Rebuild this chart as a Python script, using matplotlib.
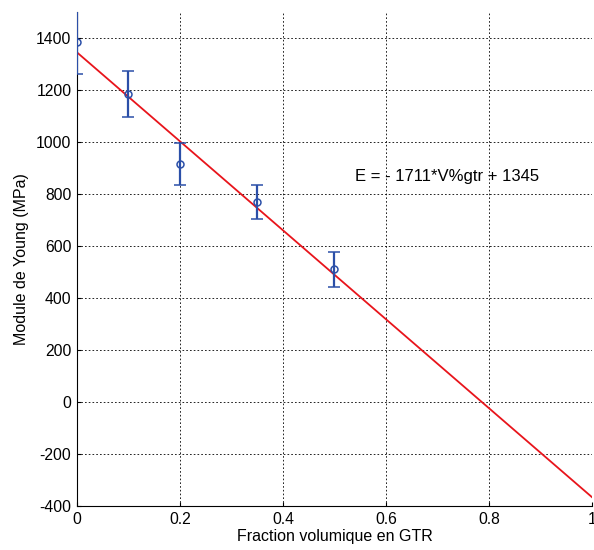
import numpy as np
import matplotlib.pyplot as plt

plt.rcParams['font.family'] = ['Liberation Sans', 'DejaVu Sans']
plt.rcParams['axes.unicode_minus'] = False

# Measured data (fraction of GTR vs Young's modulus)
frac = [0.0, 0.1, 0.2, 0.35, 0.5]
modulus = [1385, 1185, 915, 770, 510]
err = [125, 88, 81, 66, 66]

# Linear fit E = -1711*V + 1345
slope = -1711
intercept = 1345
fit_x = np.array([0.0, 1.0])

fig = plt.figure(figsize=(5.94, 5.5), dpi=100)
ax = fig.add_axes([0.1296, 0.08, 0.867, 0.898])

ax.plot(fit_x, slope * fit_x + intercept, color='#e8141b', lw=1.3, zorder=3)
ax.errorbar(frac, modulus, yerr=err, fmt='o', color='#2b4fa8', mfc='none',
            ms=5, mew=1.1, elinewidth=1.6, capsize=4, capthick=1.3, zorder=4)

ax.text(0.54, 867, 'E = - 1711*V%gtr + 1345', fontsize=12, va='center')

ax.set_xlim(0, 1)
ax.set_ylim(-400, 1500)
ax.set_xticks([0, 0.2, 0.4, 0.6, 0.8, 1])
ax.set_xticklabels(['0', '0.2', '0.4', '0.6', '0.8', '1'])
ax.set_yticks(range(-400, 1401, 200))

ax.grid(True, color='black', linestyle=(0, (2, 2.5)), lw=0.6)
ax.spines['top'].set_visible(False)
ax.spines['right'].set_visible(False)
ax.tick_params(direction='in', labelsize=11.3, length=3)
ax.tick_params(axis='x', pad=4)
ax.tick_params(axis='y', pad=4)

ax.set_xlabel('Fraction volumique en GTR', fontsize=11.5, labelpad=2)
ax.set_ylabel('Module de Young (MPa)', fontsize=11.5, labelpad=5)

fig.savefig('out.png', dpi=100)
